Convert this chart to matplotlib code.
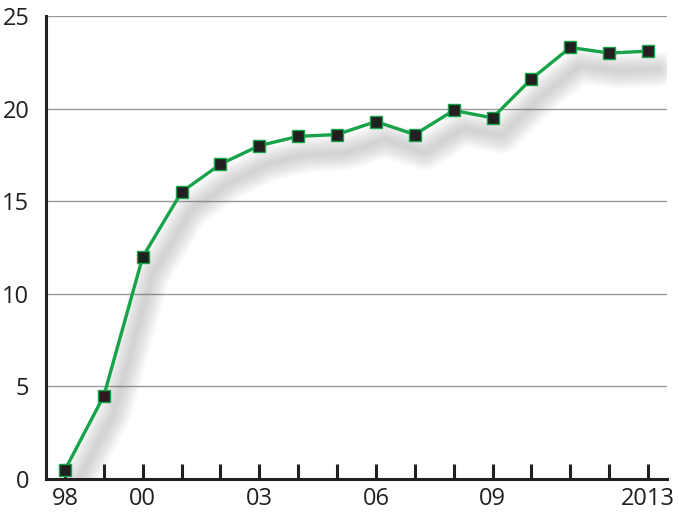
import numpy as np
import matplotlib.pyplot as plt
import matplotlib.transforms as mtransforms

plt.rcParams['font.family'] = ['Open Sans', 'DejaVu Sans']

# data
years = [1998, 1999, 2000, 2001, 2002, 2003, 2004, 2005,
         2006, 2007, 2008, 2009, 2010, 2011, 2012, 2013]
values = [0.5, 4.5, 12.0, 15.5, 17.0, 18.0, 18.5, 18.6,
          19.3, 18.6, 19.9, 19.5, 21.6, 23.3, 23.0, 23.1]
tick_years = [1998, 2000, 2003, 2006, 2009, 2013]
tick_labels = ["98", "00", "03", "06", "09", "2013"]
y_ticks = [0, 5, 10, 15, 20, 25]

green = "#16a349"

fig = plt.figure(figsize=(6.79, 5.15), dpi=100)
ax = fig.add_axes([46 / 679, 36 / 515, 621 / 679, 463 / 515])

ax.set_xlim(1997.51, 2013.49)
ax.set_ylim(0, 25)

# horizontal grid
for yv in y_ticks[1:]:
    ax.axhline(yv, color="#9a9a9a", lw=1.0, zorder=1)

# soft drop shadow: stack of faint, widening offset lines
tr = mtransforms.offset_copy(ax.transData, fig=fig, x=7, y=-13, units="points")
for lw in np.linspace(26, 3, 12):
    ax.plot(years, values, color="#666666", lw=lw, alpha=0.022,
            solid_capstyle="round", solid_joinstyle="round",
            transform=tr, zorder=2)

ax.plot(years, values, color=green, lw=2.4, zorder=4,
        marker="s", markersize=9, markerfacecolor="#231f20",
        markeredgecolor=green, markeredgewidth=1.0, clip_on=False)

for s in ["top", "right"]:
    ax.spines[s].set_visible(False)
ax.spines["left"].set_linewidth(2.2)
ax.spines["bottom"].set_linewidth(2.2)
ax.spines["left"].set_color("#231f20")
ax.spines["bottom"].set_color("#231f20")

ax.set_yticks(y_ticks)
ax.set_yticklabels([str(v) for v in y_ticks])
ax.tick_params(axis="y", length=0, pad=12, labelsize=17, colors="#231f20")

ax.set_xticks(years[1:], minor=True)
ax.set_xticks(tick_years)
ax.set_xticklabels(tick_labels)
ax.tick_params(axis="x", which="both", direction="in", length=11, width=2.2,
               color="#231f20")
ax.tick_params(axis="x", which="major", labelsize=17, pad=6, labelcolor="#231f20")

fig.savefig("out.png", dpi=100)
